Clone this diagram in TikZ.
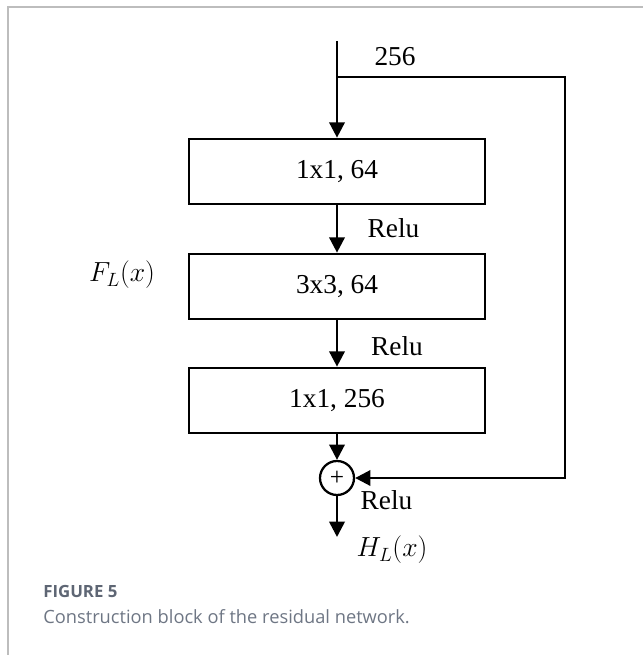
\documentclass[tikz,border=0pt]{standalone}
\usepackage{fontspec}
\setmainfont{Liberation Serif}
\newfontfamily\capfont{Open Sans}
\usetikzlibrary{arrows.meta}
\tikzset{>={Triangle[length=11.5pt,width=11.5pt]}}
\definecolor{framegray}{HTML}{BDBDBD}
\definecolor{figgray}{HTML}{5E6674}
\definecolor{capgray}{HTML}{6E7684}
\tikzset{
    blk/.style={draw, line width=2pt, minimum width=222pt, minimum height=48.75pt, inner sep=0pt},
    sumnode/.style={draw, circle, line width=1.7pt, minimum size=25.5pt, inner sep=0pt, font=\fontsize{19}{19}\selectfont},
    lbl/.style={inner sep=0pt}
}

\begin{document}
\begin{tikzpicture}[x=0.75pt, y=-0.75pt, line width=2pt, font=\fontsize{20.5}{24}\selectfont]
    \useasboundingbox (0,0) rectangle (643,655);
    % frame
    \draw [framegray, line width=1.5pt] (8,655) -- (8,7) -- (643,7);

    \coordinate (in) at (337,41);
    \coordinate (split) at (337,77);
    \coordinate (skip) at (565,77);
    \coordinate (out) at (337,537);

    \node [blk] (c1) at (337,171.5) {1x1, 64};
    \node [blk] (c2) at (337,286.5) {3x3, 64};
    \node [blk] (c3) at (337,400.5) {1x1, 256};
    \node [sumnode] (sum) at (337,478) {+};

    \draw [->] (in) -- (c1);
    \draw [->] (c1) -- (c2);
    \draw [->] (c2) -- (c3);
    \draw [->] (c3) -- (sum);
    \draw [->] (split) -- (skip) |- (sum);
    \draw [->] (sum) -- (out);

    \node [lbl] (n256) at (395,57) {256};
    \node [lbl] (relu1) at (393.5,228) {Relu};
    \node [lbl] (relu2) at (397,346) {Relu};
    \node [lbl] (relu3) at (386.5,500) {Relu};
    \node [lbl] (fl) at (122,275) {$F_L(x)$};
    \node [lbl] (hl) at (392,550) {$H_L(x)$};

    % caption
    \node [lbl, anchor=west, text=figgray, font=\capfont\bfseries\fontsize{12.6}{15}\selectfont] (fig) at (42,591) {FIGURE 5};
    \node [lbl, anchor=west, text=capgray, font=\capfont\fontsize{13.7}{16}\selectfont] (cap) at (42,617) {Construction block of the residual network.};
\end{tikzpicture}
\end{document}
